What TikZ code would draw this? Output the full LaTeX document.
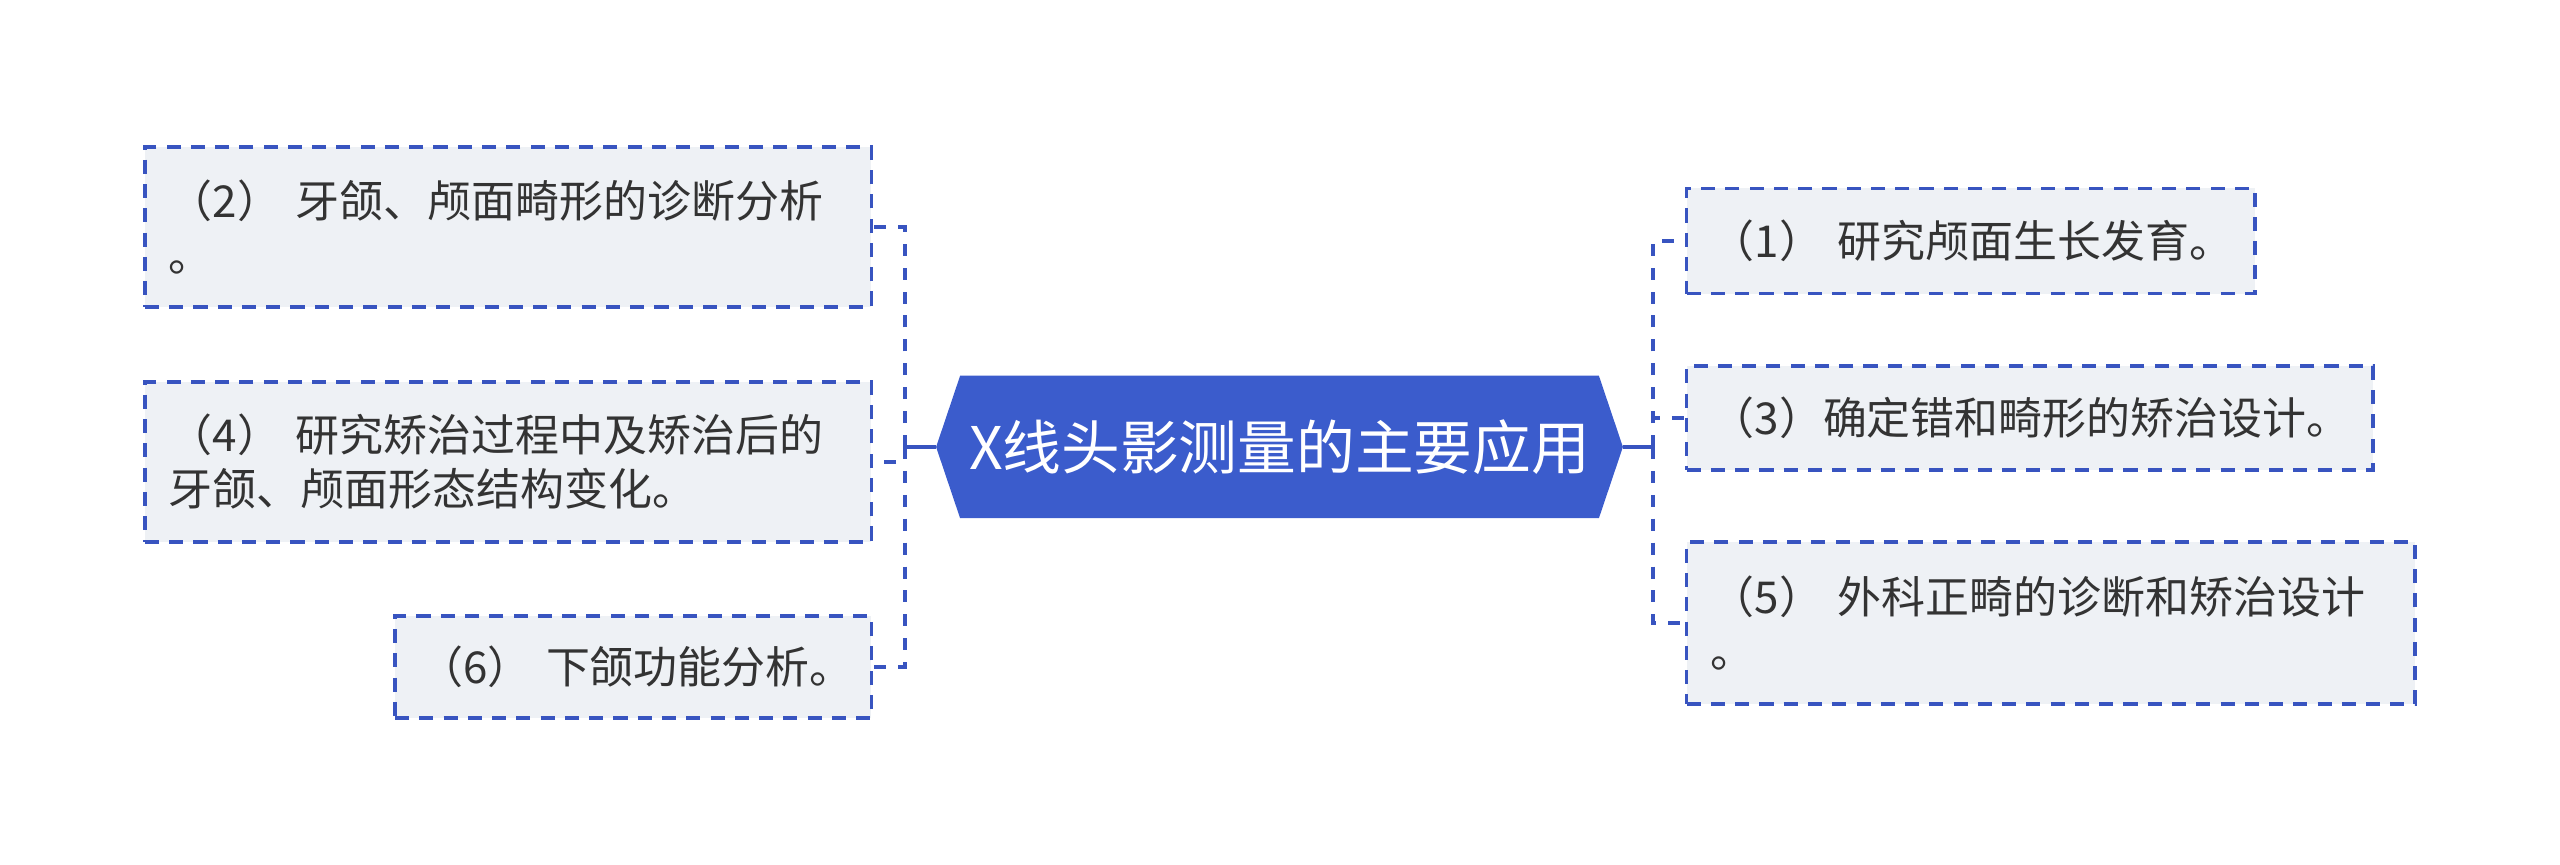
\documentclass[tikz,border=0pt]{standalone}
\usepackage{fontspec}
\setmainfont{Noto Sans CJK SC}
\usetikzlibrary{positioning, backgrounds}
\definecolor{hubblue}{RGB}{59,92,204}
\definecolor{edgeblue}{RGB}{56,84,192}
\definecolor{leafgray}{RGB}{238,241,245}
\definecolor{inkgray}{RGB}{51,51,51}

\begin{document}
\begin{tikzpicture}[x=0.01cm, y=-0.01cm,
    leaf/.style={draw=edgeblue, line width=0.95pt, dash pattern=on 4pt off 2.9pt, fill=leafgray, text=inkgray, align=left, inner xsep=0.24cm, inner ysep=0pt, font=\fontsize{12.5pt}{15.4pt}\selectfont},
    link/.style={draw=edgeblue, line width=1.3pt},
    dlink/.style={link, dash pattern=on 3.4pt off 3.4pt}]
    \useasboundingbox (0,0) rectangle (2560,865);
    \node (hub) at (1279.5,447) [minimum width=6.85cm, minimum height=1.41cm, inner sep=0pt, text=white, font=\fontsize{16.7pt}{20pt}\selectfont] {X线头影测量的主要应用};
    \begin{scope}[on background layer]
        \fill[hubblue] ([xshift=0.24cm]hub.north west) -- ([xshift=-0.24cm]hub.north east) -- (hub.east) -- ([xshift=-0.24cm]hub.south east) -- ([xshift=0.24cm]hub.south west) -- (hub.west) -- cycle;
    \end{scope}
    \node (b2) at (873,227) [leaf, anchor=east, text width=6.78cm, minimum height=1.6cm] {（2）~牙颌、颅面畸形的诊断分析\\。};
    \node (b4) at (873,462) [leaf, anchor=east, text width=6.78cm, minimum height=1.6cm] {（4）~研究矫治过程中及矫治后的\\牙颌、颅面形态结构变化。};
    \node (b6) at (873,667) [leaf, anchor=east, text width=4.28cm, minimum height=1.02cm] {（6）~下颌功能分析。};
    \node (b1) at (1685,241) [leaf, anchor=west, text width=5.2cm, minimum height=1.05cm] {（1）~研究颅面生长发育。};
    \node (b3) at (1685,418) [leaf, anchor=west, text width=6.38cm, minimum height=1.04cm] {（3）确定错和畸形的矫治设计。};
    \node (b5) at (1685,623) [leaf, anchor=west, text width=6.8cm, minimum height=1.62cm] {（5）~外科正畸的诊断和矫治设计\\。};
    \coordinate (lt) at (905,447);
    \coordinate (rt) at (1653,447);
    \draw[link] (hub.west) -- (lt);
    \draw[link] (hub.east) -- (rt);
    \foreach \b in {b2,b4,b6} \draw[dlink] (lt) |- (\b.east);
    \foreach \b in {b1,b3,b5} \draw[dlink] (rt) |- (\b.west);
\end{tikzpicture}
\end{document}
